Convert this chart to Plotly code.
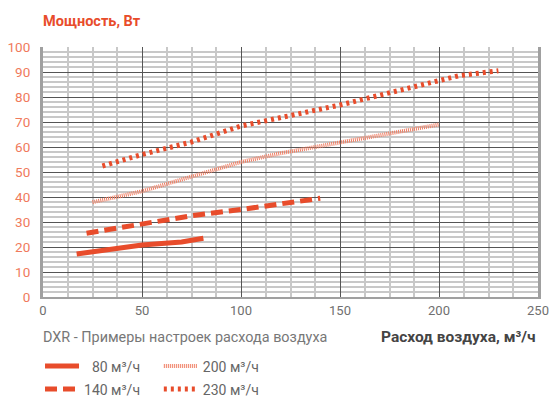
import plotly.graph_objects as go

# расход воздуха, м³/ч -> мощность, Вт
x_80 = [17, 30, 50, 70, 75, 81]
y_80 = [17.2, 18.8, 20.8, 22.0, 22.6, 23.5]

x_140 = [22, 50, 75, 100, 140]
y_140 = [25.5, 29.2, 32.5, 35.0, 39.5]

x_200 = [25, 50, 100, 120, 150, 200]
y_200 = [37.9, 42.3, 54.0, 57.5, 61.8, 69.0]

x_230 = [30, 50, 75, 100, 150, 200, 210, 230]
y_230 = [52.4, 57.0, 62.0, 68.4, 76.8, 86.2, 88.5, 90.5]

names = ["\u200780 м³/ч", "140 м³/ч", "200 м³/ч", "230 м³/ч"]

ORANGE = "#e84c2b"
FONT = "Roboto, sans-serif"

fig = go.Figure()

# каждая линия в своей легенде, чтобы разложить их сеткой 2x2
fig.add_trace(go.Scatter(x=x_80, y=y_80, mode="lines", name=names[0],
                         line=dict(color=ORANGE, width=5), legend="legend"))
fig.add_trace(go.Scatter(x=x_140, y=y_140, mode="lines", name=names[1],
                         line=dict(color=ORANGE, width=5, dash="12px,6px"), legend="legend2"))
fig.add_trace(go.Scatter(x=x_200, y=y_200, mode="lines", name=names[2],
                         line=dict(color="#f07d62", width=4, dash="1px,1px"), legend="legend3"))
fig.add_trace(go.Scatter(x=x_230, y=y_230, mode="lines", name=names[3],
                         line=dict(color=ORANGE, width=5, dash="3px,4px"), legend="legend4"))

legend_style = dict(
    orientation="h", xanchor="left", yanchor="top",
    font=dict(family=FONT, size=14, color="#666666"),
    itemwidth=34, bgcolor="rgba(0,0,0,0)",
)
col1, col2 = -0.006, 0.234
row1, row2 = -0.214, -0.306

fig.update_layout(
    width=550, height=399,
    margin=dict(l=43, r=12, t=47, b=102, autoexpand=False),
    paper_bgcolor="white", plot_bgcolor="white",
    font=dict(family=FONT),
    showlegend=True,
    legend=dict(legend_style, x=col1, y=row1),
    legend2=dict(legend_style, x=col1, y=row2),
    legend3=dict(legend_style, x=col2, y=row1),
    legend4=dict(legend_style, x=col2, y=row2),
    xaxis=dict(
        range=[0, 250], dtick=50, tick0=0,
        showgrid=True, gridcolor="#555555", gridwidth=1,
        minor=dict(dtick=12.5, showgrid=True, gridcolor="#c8c8c8", gridwidth=1.5),
        showline=True, linecolor="#a0a0a0", linewidth=2,
        ticks="", tickfont=dict(family=FONT, size=13, color="#707070"),
        ticklabeloverflow="allow",
        zeroline=False, fixedrange=True, automargin=False,
    ),
    yaxis=dict(
        range=[0, 100], dtick=10, tick0=0,
        showgrid=True, gridcolor="#555555", gridwidth=1,
        minor=dict(dtick=2, showgrid=True, gridcolor="#c8c8c8", gridwidth=1.5),
        showline=True, linecolor="#a0a0a0", linewidth=3, mirror=True,
        ticks="", tickfont=dict(family=FONT, size=13.5, color="#f07a5c"),
        ticklabelstandoff=7,
        zeroline=False, fixedrange=True, automargin=False,
    ),
    annotations=[
        dict(text="<b>Мощность, Вт</b>", xref="paper", yref="paper",
             x=-0.005, y=1.1, xanchor="left", yanchor="middle", showarrow=False,
             font=dict(family=FONT, size=14.5, color=ORANGE)),
        dict(text="DXR - Примеры настроек расхода воздуха", xref="paper", yref="paper",
             x=-0.005, y=-0.16, xanchor="left", yanchor="middle", showarrow=False,
             font=dict(family=FONT, size=14.4, color="#777777")),
        dict(text="<b>Расход воздуха, м³/ч</b>", xref="paper", yref="paper",
             x=1.0, y=-0.16, xanchor="right", yanchor="middle", showarrow=False,
             font=dict(family=FONT, size=15.5, color="#444444")),
    ],
)

# убрать отступы страницы, чтобы фигура заняла всё окно
fig.write_html("out.html", config={"displayModeBar": False},
               post_script="document.body.style.margin='0';document.body.style.overflow='hidden';")
